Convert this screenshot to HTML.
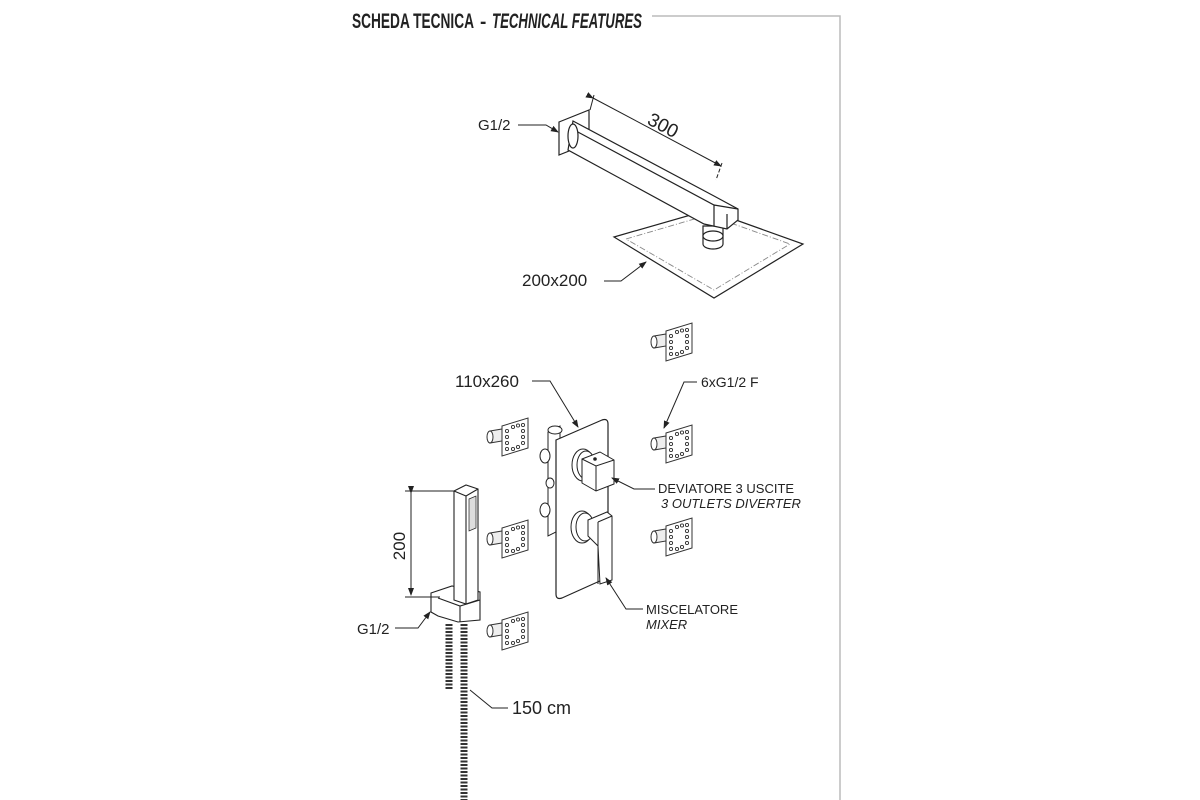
<!DOCTYPE html>
<html><head><meta charset="utf-8"><style>
html,body{margin:0;padding:0;background:#fff;}
svg{display:block;}
text{font-family:"Liberation Sans",sans-serif;fill:#222;}
</style></head><body>
<svg width="1200" height="800" viewBox="0 0 1200 800" xmlns="http://www.w3.org/2000/svg">
<defs>
<g id="jet" stroke="#333" stroke-width="1" fill="#fff">
  <path d="M-12,13 L0,11 L0,23 L-12,25 Z" fill="#eee"/>
  <ellipse cx="-12" cy="19" rx="3" ry="6"/>
  <path d="M0,8 L26,0 L26,30 L0,38 Z"/>
  <g fill="none" stroke-width="0.9">
    <circle cx="5" cy="13" r="1.6"/><circle cx="5" cy="19" r="1.6"/><circle cx="5" cy="25" r="1.6"/><circle cx="5" cy="31" r="1.6"/>
    <circle cx="21" cy="7" r="1.6"/><circle cx="21" cy="13" r="1.6"/><circle cx="21" cy="19" r="1.6"/><circle cx="21" cy="25" r="1.6"/>
    <circle cx="11" cy="9" r="1.6"/><circle cx="16" cy="7.5" r="1.6"/>
    <circle cx="11" cy="31" r="1.6"/><circle cx="16" cy="29" r="1.6"/>
  </g>
</g>
<marker id="ar" markerWidth="8" markerHeight="8" refX="7" refY="4" orient="auto" markerUnits="userSpaceOnUse"><path d="M0,1 L8,4 L0,7 Z" fill="#222"/></marker>
</defs>

<!-- frame -->
<polyline points="652,16 840,16 840,800" fill="none" stroke="#bbb" stroke-width="1.5"/>
<text x="352" y="28" font-size="21" font-weight="bold" fill="#333" textLength="122" lengthAdjust="spacingAndGlyphs">SCHEDA TECNICA</text>
<text x="480" y="28" font-size="19" font-weight="bold" fill="#777">-</text>
<text x="492" y="28" font-size="21" font-weight="bold" font-style="italic" fill="#888" textLength="150" lengthAdjust="spacingAndGlyphs">TECHNICAL FEATURES</text>

<!-- shower arm -->
<g stroke="#222" stroke-width="1.2" fill="#fff">
  <path d="M614,237 L708,210 L803,244 L714,298 Z"/>
  <path d="M626,239 L708,215 L790,244 L714,290 Z" fill="none" stroke="#888" stroke-dasharray="6,2,1,2" stroke-width="0.9"/>
  <path d="M703,226 L703,244 A10,5 0 0 0 723,244 L723,226 Z"/>
  <ellipse cx="713" cy="236" rx="10" ry="5"/>
  <path d="M559,122 L589,110 L589,143 L559,155 Z"/>
  <path d="M573,121 L714,196 L738,209 L738,220 L727,229 L704,224 L568,150 Z"/>
  <path d="M576,131 L714,205 L738,209 M714,205 L714,226 M727,214 L727,229" fill="none"/>
  <ellipse cx="573" cy="136" rx="5" ry="12"/>
</g>
<!-- 300 dim -->
<g stroke="#222" stroke-width="1" fill="none">
  <line x1="590" y1="110" x2="594" y2="95"/>
  <line x1="593" y1="98" x2="721" y2="166" marker-start="url(#ar)" marker-end="url(#ar)"/>
  <line x1="722" y1="163" x2="716" y2="180" stroke-dasharray="4,2"/>
</g>
<text x="648" y="130" font-size="19" transform="rotate(28 660 123)">300</text>
<text x="478" y="130" font-size="15">G1/2</text>
<polyline points="518,125 546,125 558,132" fill="none" stroke="#222" stroke-width="1" marker-end="url(#ar)"/>
<text x="522" y="286" font-size="17">200x200</text>
<polyline points="604,281 621,281 646,262" fill="none" stroke="#222" stroke-width="1" marker-end="url(#ar)"/>

<!-- jets -->
<use href="#jet" x="666" y="323"/>
<use href="#jet" x="666" y="425"/>
<use href="#jet" x="666" y="518"/>
<use href="#jet" x="502" y="418"/>
<use href="#jet" x="502" y="520"/>
<use href="#jet" x="502" y="612"/>

<!-- valve body behind -->
<g stroke="#222" stroke-width="1" fill="#fff">
  <path d="M548,432 L560,426 L560,530 L548,536 Z"/>
  <ellipse cx="555" cy="430" rx="7" ry="4"/>
  <ellipse cx="545" cy="456" rx="5" ry="7"/>
  <ellipse cx="545" cy="510" rx="5" ry="7"/>
  <ellipse cx="550" cy="483" rx="4" ry="5"/>
</g>
<!-- plate -->
<path d="M556,440 L602,420 Q608,418 608,424 L608,572 Q608,578 602,580 L562,598 Q556,600 556,594 Z" fill="#fff" stroke="#222" stroke-width="1.2"/>
<g stroke="#222" stroke-width="1" fill="#fff">
  <ellipse cx="583" cy="465" rx="11" ry="16"/>
  <ellipse cx="586" cy="465" rx="9" ry="14"/>
  <path d="M582,459 L600,452 L614,460 L614,484 L596,491 L582,483 Z"/>
  <path d="M582,459 L596,466 L614,460 M596,466 L596,491" fill="none"/>
  <circle cx="595" cy="459" r="1.3" fill="#222"/>
  <ellipse cx="582" cy="527" rx="11" ry="16"/>
  <ellipse cx="585" cy="527" rx="9" ry="14"/>
  <path d="M588,520 L607,512 L612,516 L612,580 L600,584 L598,546 L588,536 Z"/>
  <path d="M598,522 L612,516 M598,522 L598,546 M598,522 L598,584" fill="none"/>
</g>
<!-- handshower -->
<g stroke="#222" stroke-width="1.1" fill="#fff">
  <path d="M431,593 L452,586 L480,592 L480,620 L458,622 L438,616 L431,612 Z"/>
  <path d="M454,491 L466,485 L478,489 L478,600 L466,604 L454,600 Z"/>
  <path d="M454,491 L466,496 L478,489 M466,496 L466,604" fill="none"/>
  <path d="M469,499 L476,496 L476,528 L469,531 Z" fill="#ddd" stroke-width="0.7"/>
  <path d="M438,598 L460,606 L480,600 M460,606 L460,622" fill="none"/>
</g>
<g stroke="#333" stroke-width="7" fill="none">
  <line x1="449" y1="624" x2="449" y2="690" stroke-dasharray="2,1.5"/>
  <line x1="464" y1="624" x2="464" y2="800" stroke-dasharray="2,1.5"/>
</g>
<g stroke="#222" stroke-width="1" fill="none">
  <line x1="405" y1="491" x2="454" y2="491"/>
  <line x1="405" y1="597" x2="440" y2="597"/>
  <line x1="411" y1="493" x2="411" y2="595" marker-start="url(#ar)" marker-end="url(#ar)"/>
</g>
<text x="405" y="546" font-size="17" transform="rotate(-90 405 546)" text-anchor="middle">200</text>
<text x="357" y="634" font-size="15">G1/2</text>
<polyline points="395,628 418,628 430,612" fill="none" stroke="#222" stroke-width="1" marker-end="url(#ar)"/>
<text x="512" y="714" font-size="18">150 cm</text>
<polyline points="508,708 492,708 470,690" fill="none" stroke="#222" stroke-width="1"/>

<!-- mixer labels -->
<text x="455" y="387" font-size="17">110x260</text>
<polyline points="532,381 550,381 578,427" fill="none" stroke="#222" stroke-width="1" marker-end="url(#ar)"/>
<text x="701" y="387" font-size="14">6xG1/2 F</text>
<polyline points="697,382 684,382 664,428" fill="none" stroke="#222" stroke-width="1" marker-end="url(#ar)"/>
<text x="658" y="493" font-size="13">DEVIATORE  3 USCITE</text>
<text x="661" y="508" font-size="13" font-style="italic">3 OUTLETS  DIVERTER</text>
<polyline points="655,489 634,489 612,478" fill="none" stroke="#222" stroke-width="1" marker-end="url(#ar)"/>
<text x="646" y="614" font-size="13">MISCELATORE</text>
<text x="646" y="629" font-size="13" font-style="italic">MIXER</text>
<polyline points="643,609 626,609 606,578" fill="none" stroke="#222" stroke-width="1" marker-end="url(#ar)"/>
</svg>
</body></html>
